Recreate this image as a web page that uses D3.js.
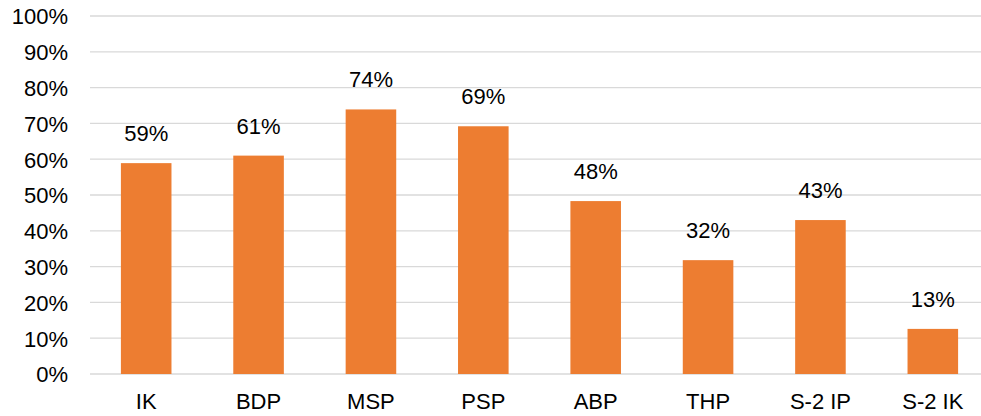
<!DOCTYPE html>
<meta charset="utf-8">
<style>
body { margin: 0; background: #fff; }
text { font-family: Arial, "Liberation Sans", sans-serif; font-size: 22px; fill: #000; }
.grid line { stroke: #d9d9d9; stroke-width: 1.3; }
.bar { fill: #ed7d31; }
</style>
<body>
<script src="https://cdn.jsdelivr.net/npm/d3@7"></script>
<script>
// data
var categories = ["IK", "BDP", "MSP", "PSP", "ABP", "THP", "S-2 IP", "S-2 IK"];
var values = [0.589, 0.61, 0.739, 0.692, 0.483, 0.318, 0.43, 0.126];
var yTicks = [0, 0.1, 0.2, 0.3, 0.4, 0.5, 0.6, 0.7, 0.8, 0.9, 1];

var width = 981, height = 416;
var plot = {left: 90, right: 989, top: 16, bottom: 374};

var data = categories.map(function(c, i) { return {name: c, value: values[i]}; });

var x = d3.scaleBand().domain(categories).range([plot.left, plot.right])
    .paddingInner(0.55).paddingOuter(0.275);
var y = d3.scaleLinear().domain([0, 1]).range([plot.bottom, plot.top]);
var pct = d3.format(".0%");

var svg = d3.select("body").append("svg")
    .attr("width", width)
    .attr("height", height);

// gridlines
svg.append("g").attr("class", "grid")
  .selectAll("line")
  .data(yTicks)
  .enter().append("line")
    .attr("x1", plot.left)
    .attr("x2", width)
    .attr("y1", function(d) { return y(d); })
    .attr("y2", function(d) { return y(d); });

// y axis labels
var yAxis = svg.append("g")
    .attr("transform", "translate(" + plot.left + ",0)")
    .call(d3.axisLeft(y).tickValues(yTicks).tickFormat(pct).tickSize(0).tickPadding(22));
yAxis.select(".domain").remove();
yAxis.selectAll("text").attr("dy", "0.36em").style("font-size", "22px").style("font-family", "Arial, 'Liberation Sans', sans-serif");

// bars
svg.selectAll(".bar")
    .data(data)
  .enter().append("rect")
    .attr("class", "bar")
    .attr("x", function(d) { return x(d.name); })
    .attr("width", x.bandwidth())
    .attr("y", function(d) { return y(d.value); })
    .attr("height", function(d) { return y(0) - y(d.value); });

// value labels
svg.selectAll(".label")
    .data(data)
  .enter().append("text")
    .attr("class", "label")
    .attr("text-anchor", "middle")
    .attr("x", function(d) { return x(d.name) + x.bandwidth() / 2; })
    .attr("y", function(d) { return y(d.value) - 22; })
    .text(function(d) { return pct(d.value); });

// x axis labels
var xAxis = svg.append("g")
    .attr("transform", "translate(0," + plot.bottom + ")")
    .call(d3.axisBottom(x).tickSize(0).tickPadding(19));
xAxis.select(".domain").remove();
xAxis.selectAll("text").style("font-size", "22px").style("font-family", "Arial, 'Liberation Sans', sans-serif");
</script>
</body>
